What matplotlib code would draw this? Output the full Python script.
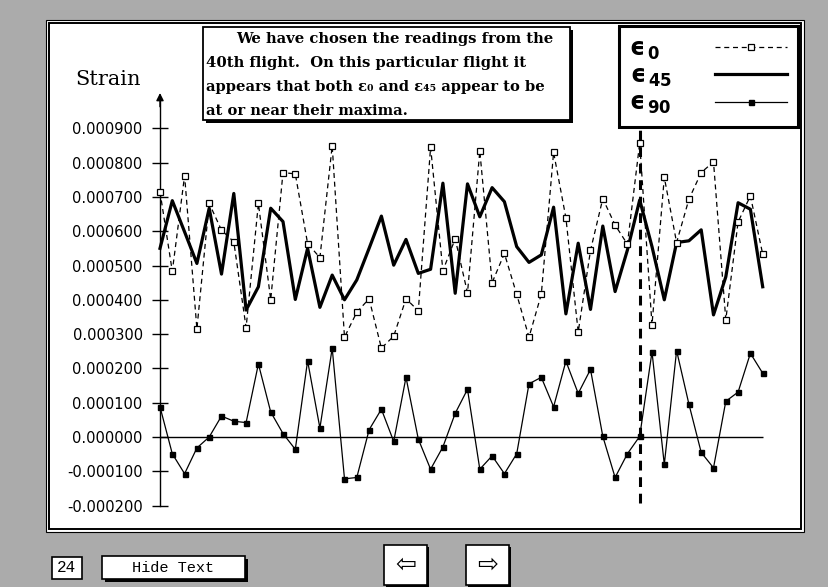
import matplotlib.pyplot as plt
import numpy as np
from matplotlib.patches import Rectangle

# strain readings per flight, in microstrain
flights = np.arange(1, 51)
eps0 = np.array([715, 483, 762, 315, 681, 603, 569, 319, 681, 400,
                 771, 767, 564, 523, 849, 291, 364, 403, 259, 294,
                 403, 368, 845, 485, 578, 420, 834, 450, 535, 416,
                 291, 416, 830, 639, 306, 544, 695, 618, 562, 857,
                 327, 757, 567, 693, 771, 802, 342, 627, 703, 533]) * 1e-6
eps45 = np.array([550, 689, 598, 506, 667, 475, 710, 370, 438, 667,
                  628, 401, 550, 378, 472, 400, 458, 550, 644, 501,
                  576, 477, 489, 740, 419, 738, 642, 727, 686, 555,
                  509, 531, 670, 359, 565, 372, 615, 424, 545, 691,
                  555, 400, 567, 572, 604, 356, 467, 683, 664, 438]) * 1e-6
eps90 = np.array([88, -49, -107, -32, 0, 61, 46, 42, 213, 73,
                  10, -36, 222, 26, 259, -122, -118, 21, 81, -13,
                  174, -6, -94, -29, 69, 139, -94, -55, -107, -49,
                  155, 174, 88, 221, 127, 197, 2, -118, -49, 2,
                  248, -80, 252, 96, -45, -90, 104, 131, 244, 186]) * 1e-6
chosen_flight = 40

yticks = np.arange(-0.0002, 0.00091, 0.0001)
ytick_labels = ["-0.000200", "-0.000100", "0.000000", "0.000100", "0.000200",
                "0.000300", "0.000400", "0.000500", "0.000600", "0.000700",
                "0.000800", "0.000900"]
legend_labels = [r"$\mathbf{ϵ}_{\,\mathbf{0}}$", r"$\mathbf{ϵ}_{\,\mathbf{45}}$",
                 r"$\mathbf{ϵ}_{\,\mathbf{90}}$"]
note_lines = ["We have chosen the readings from the",
              "40th flight.  On this particular flight it",
              "appears that both ε₀ and ε₄₅ appear to be",
              "at or near their maxima."]

# pixel layout of the card
W, H = 829, 587
X0, DX = 160, 12.3          # px of flight 1, px per flight
Y0, DY = 437, 343000.0      # px of zero strain, px per unit strain
AX_L, AX_R, AX_T, AX_B = 140, 790, 85, 520


def fx(x):
    return x / W


def fy(y):
    return 1 - y / H


def box(x0, y0, x1, y1, **kw):
    r = Rectangle((fx(x0), fy(y1)), (x1 - x0) / W, (y1 - y0) / H,
                  transform=fig.transFigure, **kw)
    fig.add_artist(r)
    return r


fig = plt.figure(figsize=(W / 100, H / 100), dpi=100)
fig.patch.set_facecolor("#ababab")

# white card with double border
box(46, 20, 804, 532, fc="white", ec="black", lw=0.8, zorder=0)
box(49, 23, 801, 529, fill=False, ec="black", lw=1.4, zorder=0)

ax = fig.add_axes([fx(AX_L), fy(AX_B), (AX_R - AX_L) / W, (AX_B - AX_T) / H])
ax.set_facecolor("none")
ax.set_xlim(1 + (AX_L - X0) / DX, 1 + (AX_R - X0) / DX)
ax.set_ylim((Y0 - AX_B) / DY, (Y0 - AX_T) / DY)
arrow_top = (Y0 - 93) / DY

for s in ["top", "right", "bottom"]:
    ax.spines[s].set_visible(False)
ax.spines["left"].set_position(("data", flights[0]))
ax.spines["left"].set_bounds(yticks[0], arrow_top - 0.00002)
ax.spines["left"].set_linewidth(1)
ax.set_xticks([])
ax.set_yticks(yticks)
ax.set_yticklabels(ytick_labels)
ax.tick_params(axis="y", direction="inout", length=11, width=1, pad=7,
               labelsize=10.5)
ax.annotate("", xy=(flights[0], arrow_top), xytext=(flights[0], arrow_top - 0.00004),
            arrowprops=dict(arrowstyle="-|>", color="black", lw=1,
                            mutation_scale=11, shrinkA=0, shrinkB=0))

ax.hlines(0, flights[0], flights[-1], color="black", lw=1)

l0, = ax.plot(flights, eps0, color="black", lw=0.9, ls=(0, (4, 3)),
              marker="s", ms=5, mfc="white", mec="black", mew=0.9, zorder=3)
l45, = ax.plot(flights, eps45, color="black", lw=2.3, zorder=2)
l90, = ax.plot(flights, eps90, color="black", lw=0.9, marker="s", ms=3.6,
               mfc="black", mec="black", zorder=3)

ax.vlines(chosen_flight, (Y0 - 503) / DY, (Y0 - 127) / DY, color="black",
          lw=2.2, linestyles=(0, (3.2, 2.2)), zorder=4)

leg = ax.legend([l0, l45, l90], legend_labels, loc="upper right",
                bbox_to_anchor=(fx(798), fy(26)), bbox_transform=fig.transFigure,
                markerfirst=False, fancybox=False, edgecolor="black",
                framealpha=1, borderaxespad=0, borderpad=0.45,
                handlelength=3.05, handletextpad=1.85, labelspacing=0.08,
                prop={"size": 17})
leg.get_frame().set_linewidth(2.2)
# rows are right-aligned; widen the gap of the one-digit row so the epsilons line up
rows = leg._legend_handle_box.get_children()[0].get_children()
rows[0].sep += 8.3

fig.text(fx(75), fy(85), "Strain", family="DejaVu Serif", fontsize=15,
         va="baseline")

# note box with shadow
box(206, 30, 573, 123, fc="black", lw=0, zorder=5)
box(203, 27, 570, 120, fc="white", ec="black", lw=1.3, zorder=6)
for k, line in enumerate(note_lines):
    fig.text(fx(236 if k == 0 else 206), fy(43 + 24 * k), line,
             family=["DejaVu Serif", "DejaVu Sans"], fontweight="bold",
             fontsize=10.6, va="baseline", zorder=7)

# bottom controls
box(52, 557, 82, 579, fc="white", ec="black", lw=1.2)
fig.text(fx(67), fy(568), "24", family="Liberation Mono", fontsize=11.5,
         ha="center", va="center")
box(105, 559, 248, 582, fc="black", lw=0)
box(102, 556, 245, 579, fc="white", ec="black", lw=1.2)
fig.text(fx(173), fy(568), "Hide Text", family="Liberation Mono", fontsize=11,
         ha="center", va="center")
for x0, arrow in [(384, "⇦"), (466, "⇨")]:
    box(x0 + 2, 547, x0 + 45, 587, fc="black", lw=0)
    box(x0, 545, x0 + 43, 585, fc="white", ec="black", lw=1.2)
    fig.text(fx(x0 + 21.5), fy(565), arrow, family="DejaVu Sans", fontsize=18,
             ha="center", va="center")

fig.savefig("out.png", dpi=100, facecolor=fig.get_facecolor())
